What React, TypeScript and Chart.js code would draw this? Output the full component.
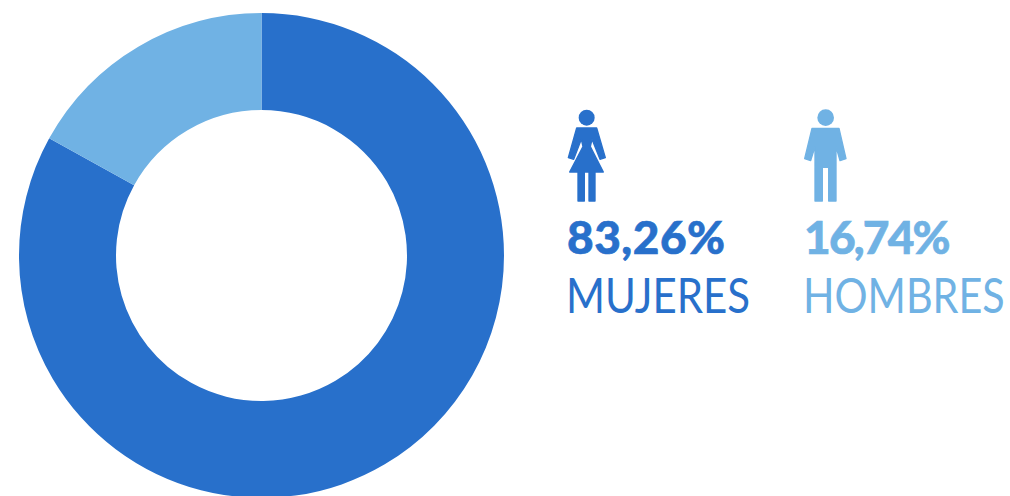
import React, { useEffect, useRef } from "react";
import { Chart, registerables } from "chart.js";

Chart.register(...registerables);

const categories = ["MUJERES", "HOMBRES"];
// the printed labels below are what the picture states.
const sliceValues = [83.03, 16.97];
const shareLabels = ["83,26%", "16,74%"];
const colors = ["#2870CB", "#70B2E4"];

const WOMAN =
  "M80 114 L140 114 L166 203 L150 208 L126 148 L121 170 L160 246 L135 246 L135 333 L117 333 L117 246 L103 246 L103 333 L84 333 L84 246 L59 246 L99 170 L94 148 L71 208 L55 203 Z";
const MAN =
  "M786 115 L867 115 L888 206 L870 212 L858 170 L858 333 L836 333 L836 232 L817 232 L817 333 L795 333 L795 170 L782 212 L764 206 Z";

const textBase: React.CSSProperties = { position: "absolute", whiteSpace: "nowrap", lineHeight: "1", transformOrigin: "left top" };

export default function App() {
  const ref = useRef<HTMLCanvasElement>(null);
  useEffect(() => {
    document.body.style.margin = "0";
    document.body.style.overflow = "hidden";
    const chart = new Chart(ref.current!, {
      type: "doughnut",
      data: {
        labels: categories,
        datasets: [{ data: sliceValues, backgroundColor: colors, borderWidth: 0 }],
      },
      options: {
        animation: false,
        responsive: false,
        cutout: "60%",
        plugins: { legend: { display: false }, tooltip: { enabled: false } },
        layout: { padding: 0 },
      },
    });
    return () => chart.destroy();
  }, []);
  return (
    <div style={{ position: "relative", width: 1010, height: 496, overflow: "hidden", background: "#fff", fontFamily: "Lato" }}>
      <canvas ref={ref} width={485} height={485} style={{ position: "absolute", left: 19, top: 13 }} />
      <svg style={{ position: "absolute", left: 550, top: 90 }} width={460} height={240} viewBox="0 0 1380 720">
        <circle cx={110} cy={83} r={24} fill={colors[0]} />
        <path d={WOMAN} fill={colors[0]} stroke={colors[0]} strokeWidth={4} strokeLinejoin="round" />
        <circle cx={827} cy={83} r={25} fill={colors[1]} />
        <path d={MAN} fill={colors[1]} stroke={colors[1]} strokeWidth={4} strokeLinejoin="round" />
      </svg>
      <div style={{ ...textBase, left: 567, top: 214, fontSize: 46, fontWeight: 900, color: colors[0], letterSpacing: 0.5, WebkitTextStroke: `0.6px ${colors[0]}` }}>{shareLabels[0]}</div>
      <div style={{ ...textBase, left: 804, top: 214, fontSize: 46, fontWeight: 900, color: colors[1], letterSpacing: -1.8, WebkitTextStroke: `0.6px ${colors[1]}` }}>{shareLabels[1]}</div>
      <div style={{ ...textBase, left: 566, top: 271, fontSize: 48, fontWeight: 400, color: colors[0], transform: "scaleX(0.875)" }}>{categories[0]}</div>
      <div style={{ ...textBase, left: 803, top: 271, fontSize: 48, fontWeight: 400, color: colors[1], transform: "scaleX(0.86)" }}>{categories[1]}</div>
    </div>
  );
}
